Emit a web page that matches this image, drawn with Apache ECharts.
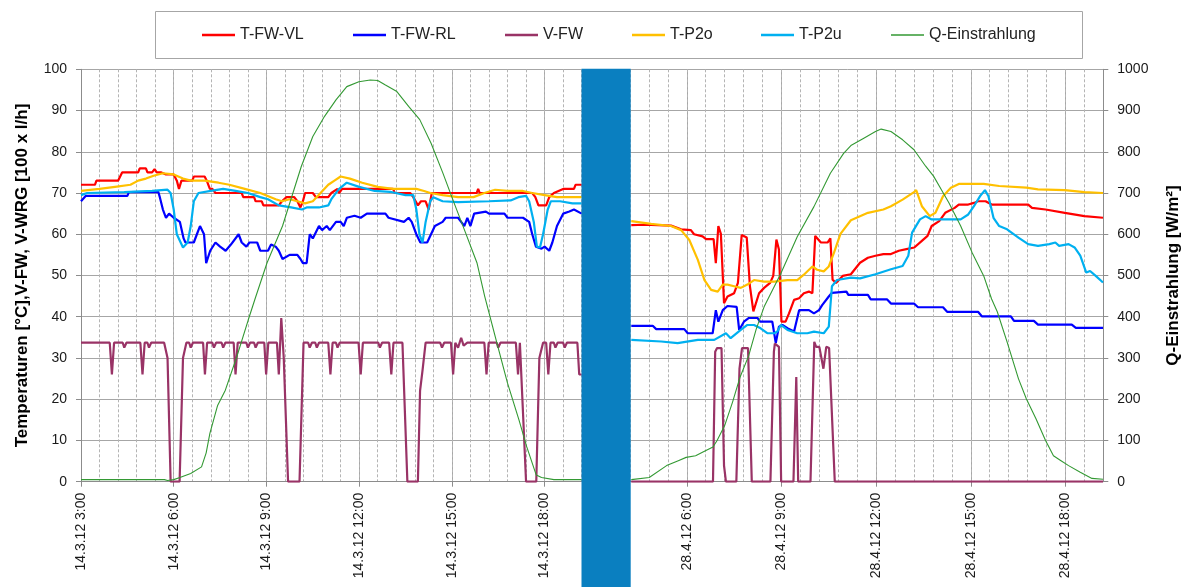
<!DOCTYPE html>
<html>
<head>
<meta charset="utf-8">
<script src="https://cdn.jsdelivr.net/npm/echarts@6/dist/echarts.min.js"></script>
<style>
html, body { margin: 0; padding: 0; background: #fff; }
#chart { width: 1188px; height: 587px; }
</style>
</head>
<body>
<div id="chart"></div>
<script>
// x values are hours of the day, y values in °C / 100 l/h (Q in W/m²)
var names = ['T-FW-VL', 'T-FW-RL', 'V-FW', 'T-P2o', 'T-P2u', 'Q-Einstrahlung'];

var leftTicks = [3, 6, 9, 12, 15, 18];
var leftTickLabels = ['14.3.12 3:00', '14.3.12 6:00', '14.3.12 9:00', '14.3.12 12:00', '14.3.12 15:00', '14.3.12 18:00'];
var rightTicks = [6, 9, 12, 15, 18];
var rightTickLabels = ['28.4.12 6:00', '28.4.12 9:00', '28.4.12 12:00', '28.4.12 15:00', '28.4.12 18:00'];

// ---- 14.3.12 ----
var vlMar = [[3.0,72],[3.45,72],[3.5,73],[4.2,73],[4.33,75],[4.85,75],[4.9,76],[5.1,76],[5.15,75],[5.3,75],[5.38,75.8],[5.45,75],[5.6,75],[5.75,74.5],[6.0,74.5],[6.1,73],[6.17,71],[6.25,73],[6.6,73],[6.65,74],[7.0,74],[7.07,73],[7.12,72],[7.17,71],[7.25,71],[7.35,70],[8.2,70],[8.25,69],[8.6,69],[8.65,68],[8.85,68],[8.9,67],[9.4,67],[9.5,68],[9.65,69],[9.9,69],[10.0,68],[10.1,66.5],[10.18,68],[10.25,70],[10.5,70],[10.6,69],[11.0,69],[11.1,70],[11.3,71],[11.35,70],[11.45,71],[13.1,71],[13.15,70],[13.65,70],[13.75,69],[13.9,67],[14.0,68],[14.15,68],[14.25,66],[14.35,70],[15.8,70],[15.85,71],[15.9,70],[17.6,70],[17.7,69],[17.8,67],[18.05,67],[18.15,69],[18.3,70],[18.6,71],[18.95,71],[19.0,72],[19.2,72]];
var rlMar = [[3.0,68],[3.15,69.3],[4.5,69.3],[4.55,70.2],[5.5,70.3],[5.55,69],[5.65,66],[5.75,64],[5.85,65],[6.0,64],[6.2,63],[6.32,59],[6.38,58],[6.65,58],[6.75,60],[6.85,62],[6.98,60],[7.05,53],[7.18,56],[7.35,58],[7.5,57],[7.68,56],[7.85,57.5],[8.1,60],[8.2,58],[8.35,57],[8.45,58],[8.7,58],[8.8,56],[9.05,56],[9.15,57.5],[9.3,57],[9.4,56],[9.52,54],[9.75,55],[10.0,55],[10.1,54],[10.18,53],[10.3,53],[10.4,60],[10.5,59],[10.7,62],[10.8,61],[10.95,62],[11.05,61],[11.25,63],[11.4,63],[11.5,62],[11.6,64],[11.85,64.5],[12.05,64],[12.25,65],[12.85,65],[12.95,64],[13.45,63],[13.6,64],[13.7,63],[13.85,60],[13.98,58],[14.2,58],[14.45,62],[14.7,63],[14.8,64],[15.2,64],[15.3,63],[15.4,62],[15.5,64],[15.6,62],[15.72,65],[16.1,65.5],[16.2,65],[16.7,65],[16.8,64],[17.3,64],[17.5,63],[17.6,60],[17.72,57],[17.9,56.5],[18.0,57],[18.15,56],[18.25,58],[18.4,62],[18.6,65],[18.8,65.5],[18.95,66],[19.2,65]];
var vfwMar = [[3.0,33.7],[3.93,33.7],[4.0,26],[4.07,33.7],[4.35,33.7],[4.4,32.5],[4.47,33.7],[4.92,33.7],[4.99,26],[5.06,33.7],[5.15,33.7],[5.2,32.5],[5.27,33.7],[5.69,33.7],[5.8,30],[5.9,0],[6.19,0],[6.3,30],[6.41,33.7],[6.5,33.7],[6.55,32.5],[6.62,33.7],[6.95,33.7],[7.01,26],[7.08,33.7],[7.25,33.7],[7.3,32.5],[7.37,33.7],[7.55,33.7],[7.6,32.5],[7.67,33.7],[7.94,33.7],[8.0,26],[8.07,33.7],[8.35,33.7],[8.4,32.5],[8.47,33.7],[8.6,33.7],[8.65,32.5],[8.72,33.7],[8.93,33.7],[8.99,26],[9.06,33.7],[9.34,33.7],[9.4,26],[9.48,39.7],[9.56,30],[9.7,0],[10.07,0],[10.2,33.7],[10.35,33.7],[10.4,32.5],[10.47,33.7],[10.58,33.7],[10.63,32.5],[10.7,33.7],[11.0,33.7],[11.07,26],[11.14,33.7],[11.25,33.7],[11.3,32.5],[11.37,33.7],[11.98,33.7],[12.05,26],[12.12,33.7],[12.62,33.7],[12.67,32.5],[12.74,33.7],[12.97,33.7],[13.04,26],[13.11,33.7],[13.4,33.7],[13.56,0],[13.9,0],[13.97,22],[14.05,27],[14.15,33.7],[14.62,33.7],[14.68,32.5],[14.75,33.7],[14.97,33.7],[15.04,26],[15.11,33.7],[15.17,33.7],[15.2,32.5],[15.3,34.9],[15.38,33],[15.5,33.7],[16.05,33.7],[16.12,26],[16.19,33.7],[16.45,33.7],[16.5,32.5],[16.57,33.7],[17.07,33.7],[17.14,26],[17.2,33.7],[17.26,33.7],[17.4,0],[17.73,0],[17.83,30],[17.95,33.7],[18.05,33.7],[18.12,26],[18.19,33.7],[18.3,33.7],[18.35,32.5],[18.42,33.7],[18.6,33.7],[18.65,32.5],[18.72,33.7],[19.06,33.7],[19.12,26],[19.2,26]];
var p2oMar = [[3.0,70.5],[3.6,71],[4.1,71.5],[4.6,72],[4.85,73],[5.1,73.5],[5.35,74.2],[5.65,74.8],[6.0,74.5],[6.3,73.5],[6.55,73],[7.0,73],[7.45,72.5],[7.8,72],[8.3,71],[8.8,70],[9.3,68.5],[9.5,68],[9.75,68.5],[10.0,68],[10.25,67.5],[10.5,68],[10.75,70],[11.0,72],[11.2,73],[11.4,74],[11.7,73.5],[12.1,72.5],[12.6,71.5],[13.1,71],[13.6,71],[13.85,71],[14.1,70.5],[14.3,70],[14.7,69.5],[15.2,69],[15.7,69],[16.05,70],[16.4,70.8],[16.8,70.5],[17.3,70.5],[17.6,70],[18.0,69.5],[18.4,69],[19.2,69]];
var p2uMar = [[3.0,69.5],[3.2,70],[4.4,70.2],[5.3,70.5],[5.8,70.8],[5.9,70],[6.0,66],[6.1,60],[6.3,56.8],[6.45,58],[6.55,62],[6.65,68],[6.8,70],[7.2,70.5],[7.6,71],[8.0,70.5],[8.4,70],[8.8,69],[9.05,68.5],[9.4,67],[9.8,66.5],[10.15,66],[10.3,66.5],[10.7,66.5],[11.0,67],[11.1,68.5],[11.35,71],[11.6,72.5],[12.0,71.5],[12.5,70.5],[13.0,70.3],[13.5,69.5],[13.75,69.5],[13.85,66],[13.95,60],[14.05,58],[14.15,63],[14.3,68],[14.4,69],[14.7,68],[15.2,67.8],[16.2,68],[16.9,68.2],[17.15,69],[17.4,69.3],[17.5,68],[17.65,63],[17.75,57],[17.85,56.8],[17.95,60],[18.1,66],[18.2,68],[18.5,68],[18.9,67.5],[19.2,67.5]];
var qMar = [[3.0,5],[5.7,5],[5.8,3],[6.0,5],[6.2,10],[6.55,20],[6.9,36],[7.05,70],[7.17,117],[7.42,185],[7.67,222],[8.04,303],[8.41,392],[8.63,443],[9.02,531],[9.52,620],[10.13,765],[10.5,837],[10.88,886],[11.25,926],[11.6,958],[11.99,970],[12.36,974],[12.6,973],[12.85,962],[13.22,946],[13.6,910],[13.96,878],[14.33,820],[14.7,750],[15.07,676],[15.44,604],[15.81,531],[16.06,450],[16.43,344],[16.8,239],[17.17,150],[17.42,85],[17.73,16],[17.9,10],[18.3,5],[19.2,5]];

// ---- 28.4.12 ----
var vlApr = [[4.24,62.2],[4.66,62.3],[5.5,62.1],[5.82,61.2],[6.13,61],[6.23,60],[6.5,59.5],[6.61,58.8],[6.85,58.8],[6.92,53],[7.0,62],[7.08,60.1],[7.18,43.3],[7.29,44.9],[7.5,45.7],[7.62,48.2],[7.74,59.8],[7.9,59.2],[8.0,47.4],[8.11,41.3],[8.29,45.7],[8.45,47],[8.64,48.2],[8.74,49.9],[8.84,58.7],[8.92,56.3],[9.0,38.8],[9.13,38.8],[9.24,40.8],[9.4,44.1],[9.56,44.5],[9.71,45.7],[9.87,46.1],[9.98,45.7],[10.07,59.6],[10.25,58],[10.46,58],[10.55,59],[10.62,49],[10.73,48.2],[10.94,49.9],[11.2,50.3],[11.49,53.1],[11.74,54.3],[11.98,54.8],[12.23,55.2],[12.47,55.2],[12.72,56],[12.96,56.4],[13.21,56.8],[13.45,58.4],[13.63,59.6],[13.76,62],[14.0,63.2],[14.19,65.2],[14.49,66.4],[14.62,67.2],[14.92,67.2],[15.1,67.6],[15.23,68],[15.47,68],[15.66,67.2],[16.82,67.2],[16.94,66.4],[17.37,66],[17.98,65.2],[18.6,64.4],[19.19,64]];
var rlApr = [[4.24,37.8],[4.92,37.8],[5.03,37],[5.92,37],[6.03,36],[6.82,36],[6.92,41.6],[7.0,38.8],[7.14,41.6],[7.29,42.6],[7.58,42.4],[7.66,36.8],[7.81,38.8],[7.97,39.7],[8.24,39.7],[8.32,38.8],[8.71,38.8],[8.82,33.6],[8.92,37.6],[9.03,38],[9.19,37.2],[9.4,36.4],[9.56,41.6],[9.87,41.6],[10.03,40.8],[10.19,41.6],[10.29,42.8],[10.5,44.9],[10.6,45.8],[10.63,46.1],[11.06,46.1],[11.12,45.3],[11.74,45.3],[11.83,44.2],[12.35,44.2],[12.47,43.2],[13.2,43.2],[13.33,42.3],[14.12,42.3],[14.25,41.2],[15.23,41.2],[15.35,40.1],[16.27,40.1],[16.37,39],[17.0,39],[17.13,38.1],[18.2,38.1],[18.33,37.3],[19.19,37.3]];
var vfwApr = [[4.24,0],[6.83,0],[6.9,31.5],[6.96,32.4],[7.1,32.4],[7.18,3.9],[7.24,0],[7.57,0],[7.67,27.4],[7.75,32.4],[7.94,32.4],[8.06,0],[8.65,0],[8.76,31.5],[8.79,33.5],[8.92,32.7],[8.99,0],[9.38,0],[9.47,25.4],[9.53,0],[9.92,0],[10.04,33.9],[10.1,32.7],[10.2,32.7],[10.33,27.4],[10.42,32.7],[10.51,32.4],[10.69,0],[19.19,0]];
var p2oApr = [[4.24,63.2],[4.87,62.5],[5.5,62],[5.82,61],[6.08,58.6],[6.35,53.8],[6.56,48.9],[6.77,46.5],[6.98,46.1],[7.14,47.8],[7.29,47.8],[7.5,47.4],[7.71,47],[7.92,47.8],[8.13,48.9],[8.45,48.5],[8.77,48.5],[9.19,48.9],[9.5,48.9],[9.71,50.2],[9.98,52.2],[10.13,51.4],[10.34,51],[10.5,52.2],[10.66,55.4],[10.87,60.1],[11.2,63.4],[11.74,65.2],[12.23,66],[12.47,66.8],[12.84,68.4],[13.2,70.2],[13.27,70.7],[13.45,66.8],[13.7,64.4],[13.88,65.2],[14.12,69.2],[14.37,71.3],[14.62,72.2],[15.41,72.2],[15.9,71.7],[16.76,71.3],[17.13,70.9],[17.98,70.7],[18.6,70.2],[19.19,70]];
var p2uApr = [[4.24,34.4],[5.19,34],[5.71,33.6],[6.35,34.4],[6.87,34.4],[7.24,36],[7.39,34.8],[7.71,36.8],[7.92,38],[8.13,38],[8.34,37.2],[8.55,36],[8.77,36],[8.87,36.4],[8.98,38],[9.19,36.8],[9.5,36],[9.82,36],[10.03,36.4],[10.34,36],[10.5,37.6],[10.6,47.4],[10.76,48.9],[11.2,49.5],[11.49,49.3],[11.98,50.3],[12.47,51.5],[12.84,52.3],[13.02,54.8],[13.14,60.4],[13.39,63.6],[13.57,64.4],[13.76,63.6],[14.68,63.6],[14.92,64.8],[15.1,66.8],[15.29,69.2],[15.45,70.7],[15.56,69.2],[15.72,64],[15.9,62],[16.15,61.2],[16.51,59.2],[16.82,57.6],[17.13,57.2],[17.49,57.6],[17.68,58],[17.8,57.2],[18.1,57.6],[18.29,56.8],[18.47,54.8],[18.66,50.7],[18.78,51.1],[18.96,49.9],[19.19,48.3]];
var qApr = [[4.24,5],[4.81,10],[5.36,39],[5.73,51],[5.98,59],[6.28,63],[6.59,75],[6.83,84],[6.96,100],[7.2,136],[7.45,193],[7.69,254],[7.96,305],[8.2,370],[8.45,424],[8.98,505],[9.5,594],[10.03,667],[10.55,748],[10.97,796],[11.2,815],[11.61,833],[11.98,849],[12.16,855],[12.47,849],[12.84,829],[13.2,805],[13.57,765],[13.82,741],[14.06,709],[14.31,676],[14.68,620],[15.04,556],[15.41,499],[15.66,443],[15.84,412],[16.15,339],[16.51,250],[16.76,201],[17.07,152],[17.37,100],[17.62,63],[17.86,51],[18.1,39],[18.47,23],[18.84,8],[19.19,6]];

var colors = ['#FF0000', '#0000FF', '#993366', '#FFC000', '#00B0F0', '#339933'];
var widths = [2.2, 2.2, 2.2, 2.2, 2.2, 1.1];
var font = 'Liberation Sans, Arial, sans-serif';
var gridColor = '#A6A6A6';

// plot area
var plotTop = 69.3, plotH = 412.4;
var leftX = 81, leftW = 500.7;
var sepX = 581.5, sepW = 49.2;
var rightEnd = 1103.3, rightStart = 630, rightMin = 4.2;
var pxPerHourR = (rightEnd - rightStart) / (19.2 - rightMin);
var rightX = rightStart - (rightMin - 3) * pxPerHourR;

var myChart = echarts.init(document.getElementById('chart'));

function majorX(grid, ticks, labels) {
    return {
        type: 'value', gridIndex: grid, min: 3, max: 19.2, interval: 3, position: 'bottom',
        axisLine: { lineStyle: { color: '#8C8C8C', width: 1 } },
        axisTick: { show: true, length: 5, customValues: ticks, lineStyle: { color: '#8C8C8C' } },
        axisLabel: {
            customValues: ticks, rotate: 90, margin: 11, fontSize: 14, color: '#1a1a1a', fontFamily: font,
            formatter: function (v) {
                var i = ticks.indexOf(v);
                return i < 0 ? '' : labels[i];
            }
        },
        splitLine: { show: true, lineStyle: { color: gridColor, width: 1 } }
    };
}
function minorX(grid) {
    return {
        type: 'value', gridIndex: grid, min: 3, max: 19.2, interval: 0.6, position: 'bottom',
        axisLine: { show: false }, axisTick: { show: false }, axisLabel: { show: false },
        splitLine: { show: true, lineStyle: { color: '#B4B4B4', width: 1, type: [3, 2] } }
    };
}
function line(name, data, idx, xi, yi) {
    return {
        name: name, type: 'line', data: data, xAxisIndex: xi, yAxisIndex: yi,
        symbol: 'none', animation: false, z: 2 + idx * 0.1,
        lineStyle: { color: colors[idx], width: widths[idx] },
        itemStyle: { color: colors[idx] }
    };
}

var legendLeft = [202, 353, 505, 632, 761, 891];

option = {
    backgroundColor: '#fff',
    animation: false,
    grid: [
        { left: leftX, top: plotTop, width: leftW, height: plotH },
        { left: rightX, top: plotTop, width: rightEnd - rightX, height: plotH }
    ],
    legend: names.map(function (n, i) {
        return {
            data: [n], left: legendLeft[i], top: 27, padding: 0, icon: 'rect',
            itemWidth: 33, itemHeight: i === 5 ? 1.5 : 2.5, selectedMode: false,
            textStyle: { fontSize: 16, color: '#222', fontFamily: font }
        };
    }),
    xAxis: [
        majorX(0, leftTicks, leftTickLabels),
        minorX(0),
        majorX(1, rightTicks, rightTickLabels),
        minorX(1)
    ],
    yAxis: [
        {
            type: 'value', gridIndex: 0, position: 'left', min: 0, max: 100, interval: 10,
            name: 'Temperaturen [°C],V-FW, V-WRG [100 x l/h]', nameLocation: 'middle', nameGap: 50,
            nameTextStyle: { fontSize: 17, fontWeight: 'bold', color: '#000', fontFamily: font },
            axisLine: { show: true, lineStyle: { color: '#8C8C8C' } },
            axisTick: { show: true, length: 5, lineStyle: { color: '#8C8C8C' } },
            axisLabel: { margin: 14, fontSize: 14, color: '#1a1a1a', fontFamily: font },
            splitLine: { show: true, lineStyle: { color: gridColor } }
        },
        { type: 'value', gridIndex: 0, position: 'right', min: 0, max: 1000, interval: 100, show: false },
        { type: 'value', gridIndex: 1, position: 'left', min: 0, max: 100, interval: 10, show: false },
        {
            type: 'value', gridIndex: 1, position: 'right', min: 0, max: 1000, interval: 100,
            name: 'Q-Einstrahlung [W/m²]', nameLocation: 'middle', nameGap: 62, nameRotate: 90,
            nameTextStyle: { fontSize: 17, fontWeight: 'bold', color: '#000', fontFamily: font },
            axisLine: { show: true, lineStyle: { color: '#8C8C8C' } },
            axisTick: { show: true, length: 5, lineStyle: { color: '#8C8C8C' } },
            axisLabel: {
                margin: 14, fontSize: 14, color: '#1a1a1a', fontFamily: font,
                formatter: function (v) { return String(v); }
            },
            splitLine: { show: true, lineStyle: { color: gridColor } }
        }
    ],
    graphic: [
        {
            type: 'rect', z: 0,
            shape: { x: 155.5, y: 11.5, width: 927, height: 47 },
            style: { fill: '#fff', stroke: '#A6A6A6', lineWidth: 1 }
        },
        {
            type: 'rect', z: 100,
            shape: { x: sepX, y: plotTop - 0.5, width: sepW, height: 587 - plotTop + 1 },
            style: { fill: '#0A7FC0' }
        }
    ],
    series: [
        line(names[0], vlMar, 0, 0, 0),
        line(names[1], rlMar, 1, 0, 0),
        line(names[2], vfwMar, 2, 0, 0),
        line(names[3], p2oMar, 3, 0, 0),
        line(names[4], p2uMar, 4, 0, 0),
        line(names[5], qMar, 5, 0, 1),
        line(names[0], vlApr, 0, 2, 2),
        line(names[1], rlApr, 1, 2, 2),
        line(names[2], vfwApr, 2, 2, 2),
        line(names[3], p2oApr, 3, 2, 2),
        line(names[4], p2uApr, 4, 2, 2),
        line(names[5], qApr, 5, 2, 3)
    ]
};
myChart.setOption(option);
</script>
</body>
</html>
